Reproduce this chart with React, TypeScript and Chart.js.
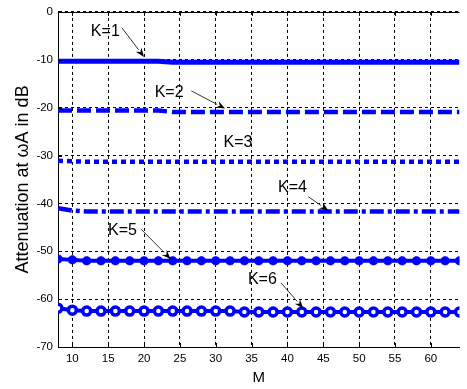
import React, { useEffect, useRef } from "react";
import { Chart, registerables } from "chart.js";

Chart.register(...registerables);

const M = [8, 10, 12, 14, 16, 18, 20, 22, 24, 26, 28, 30, 32, 34, 36, 38, 40, 42, 44, 46, 48, 50, 52, 54, 56, 58, 60, 62, 64];
const K1 = [-10.3, -10.3, -10.3, -10.3, -10.3, -10.3, -10.3, -10.3, -10.5, -10.5, -10.5, -10.5, -10.5, -10.5, -10.5, -10.5, -10.5, -10.5, -10.5, -10.5, -10.5, -10.5, -10.5, -10.5, -10.5, -10.5, -10.5, -10.5, -10.5];
const K2 = [-20.6, -20.6, -20.6, -20.6, -20.6, -20.6, -20.6, -20.6, -20.9, -20.9, -20.9, -20.9, -20.9, -20.9, -20.9, -20.9, -20.9, -20.9, -20.9, -20.9, -20.9, -20.9, -20.9, -20.9, -20.9, -20.9, -20.9, -20.9, -20.9];
const K3 = [-31.1, -31.2, -31.3, -31.3, -31.3, -31.3, -31.3, -31.3, -31.3, -31.3, -31.3, -31.3, -31.3, -31.3, -31.3, -31.3, -31.3, -31.3, -31.3, -31.3, -31.3, -31.3, -31.3, -31.3, -31.3, -31.3, -31.3, -31.3, -31.3];
const K4 = [-41.0, -41.5, -41.7, -41.7, -41.7, -41.7, -41.7, -41.7, -41.7, -41.7, -41.7, -41.7, -41.7, -41.7, -41.7, -41.7, -41.7, -41.7, -41.7, -41.7, -41.7, -41.7, -41.7, -41.7, -41.7, -41.7, -41.7, -41.7, -41.7];
const K5 = [-51.6, -51.8, -52.0, -52.0, -52.0, -52.0, -52.0, -52.0, -52.0, -52.0, -52.0, -52.0, -52.0, -52.0, -52.0, -52.0, -52.0, -52.0, -52.0, -52.0, -52.0, -52.0, -52.0, -52.0, -52.0, -52.0, -52.0, -52.0, -52.0];
const K6 = [-61.9, -62.3, -62.5, -62.5, -62.5, -62.5, -62.5, -62.5, -62.5, -62.5, -62.5, -62.5, -62.5, -62.7, -62.7, -62.7, -62.7, -62.7, -62.7, -62.7, -62.7, -62.7, -62.7, -62.7, -62.7, -62.7, -62.7, -62.7, -62.7];

const X_TICKS = [10, 15, 20, 25, 30, 35, 40, 45, 50, 55, 60];
const Y_TICKS = [0, -10, -20, -30, -40, -50, -60, -70];

// annotations: label text at (tx, ty), arrow from (ax0, ay0) to (ax1, ay1), in data units
const ANNOTATIONS = [
  { text: "K=1", tx: 14.6, ty: -4.1, arrow: [16.9, -3.3, 20.0, -9.4] },
  { text: "K=2", tx: 23.5, ty: -16.9, arrow: [26.6, -16.5, 31.3, -20.2] },
  { text: "K=3", tx: 33.1, ty: -27.3, arrow: null },
  { text: "K=4", tx: 40.7, ty: -36.8, arrow: [42.9, -38.6, 45.7, -41.5] },
  { text: "K=5", tx: 17.0, ty: -45.6, arrow: [19.6, -45.4, 23.7, -51.6] },
  { text: "K=6", tx: 36.5, ty: -56.0, arrow: [39.1, -56.6, 42.2, -61.9] },
];

const FONT = "'Liberation Sans', Arial, sans-serif";
const BLUE = "#0000ff";

const toXY = (ys: number[]) => M.map((m, i) => ({ x: m, y: ys[i] }));

const boxPlugin = {
  id: "boxAndAnnotations",
  afterDatasetsDraw(chart: any) {
    const { ctx, chartArea } = chart;
    const xs = chart.scales.x;
    const ys = chart.scales.y;
    ctx.save();
    ctx.strokeStyle = "#000";
    ctx.lineWidth = 1;
    ctx.setLineDash([]);
    ctx.beginPath();
    ctx.moveTo(chartArea.left, Math.round(chartArea.top) + 0.5);
    ctx.lineTo(chartArea.right, Math.round(chartArea.top) + 0.5);
    ctx.stroke();
    ctx.beginPath();
    for (const v of X_TICKS) {
      const px = Math.round(xs.getPixelForValue(v)) + 0.5;
      ctx.moveTo(px, chartArea.bottom);
      ctx.lineTo(px, chartArea.bottom - 4);
      ctx.moveTo(px, chartArea.top);
      ctx.lineTo(px, chartArea.top + 4);
    }
    for (const v of Y_TICKS) {
      const py = Math.round(ys.getPixelForValue(v)) + 0.5;
      ctx.moveTo(chartArea.left, py);
      ctx.lineTo(chartArea.left + 4, py);
    }
    ctx.stroke();
    ctx.restore();

    ctx.save();
    ctx.font = "16px " + FONT;
    ctx.fillStyle = "#000";
    ctx.textAlign = "center";
    ctx.textBaseline = "middle";
    for (const a of ANNOTATIONS) {
      ctx.fillText(a.text, xs.getPixelForValue(a.tx), ys.getPixelForValue(a.ty));
      if (a.arrow) {
        const x0 = xs.getPixelForValue(a.arrow[0]);
        const y0 = ys.getPixelForValue(a.arrow[1]);
        const x1 = xs.getPixelForValue(a.arrow[2]);
        const y1 = ys.getPixelForValue(a.arrow[3]);
        const ang = Math.atan2(y1 - y0, x1 - x0);
        const hl = 9;
        const hw = 3.5;
        const bx = x1 - hl * Math.cos(ang);
        const by = y1 - hl * Math.sin(ang);
        ctx.strokeStyle = "#333";
        ctx.lineWidth = 1;
        ctx.beginPath();
        ctx.moveTo(x0, y0);
        ctx.lineTo(bx, by);
        ctx.stroke();
        ctx.fillStyle = "#000";
        ctx.beginPath();
        ctx.moveTo(x1, y1);
        ctx.lineTo(bx + hw * Math.sin(ang), by - hw * Math.cos(ang));
        ctx.lineTo(x1 - (hl - 3) * Math.cos(ang), y1 - (hl - 3) * Math.sin(ang));
        ctx.lineTo(bx - hw * Math.sin(ang), by + hw * Math.cos(ang));
        ctx.closePath();
        ctx.fill();
      }
    }
    ctx.restore();
  },
};

export default function App() {
  const ref = useRef<HTMLCanvasElement | null>(null);

  useEffect(() => {
    document.body.style.margin = "0";
    const canvas = ref.current;
    if (!canvas) return;
    const line = (data: number[], dash: number[], width: number, extra: any = {}) => ({
      data: toXY(data),
      borderColor: BLUE,
      backgroundColor: BLUE,
      borderWidth: width,
      borderDash: dash,
      pointRadius: 0,
      tension: 0,
      ...extra,
    });
    const chart = new Chart(canvas, {
      type: "line",
      data: {
        datasets: [
          line(K1, [], 5),
          line(K2, [14, 5], 4.5),
          line(K3, [5, 4], 4.5),
          line(K4, [14, 4, 4, 4], 4.5),
          line(K5, [], 4, {
            pointRadius: 4.5,
            pointStyle: "star",
            pointBorderWidth: 3,
            pointBorderColor: BLUE,
            pointBackgroundColor: BLUE,
          }),
          line(K6, [], 4, {
            pointRadius: 4,
            pointStyle: "circle",
            pointBorderWidth: 3.5,
            pointBorderColor: BLUE,
            pointBackgroundColor: "#ffffff",
          }),
        ],
      },
      plugins: [boxPlugin],
      options: {
        responsive: false,
        animation: false,
        layout: { padding: { left: 0, right: 0, top: 8, bottom: 0 } },
        plugins: { legend: { display: false }, tooltip: { enabled: false } },
        scales: {
          x: {
            type: "linear",
            min: 8,
            max: 64,
            afterBuildTicks: (s: any) => {
              s.ticks = X_TICKS.map((v) => ({ value: v }));
            },
            afterFit: (s: any) => {
              s.height = 42;
            },
            grid: {
              color: "#000",
              lineWidth: 1,
              drawTicks: false,
            },
            border: { display: true, color: "#000", width: 1, dash: [3, 3] },
            ticks: {
              color: "#000",
              font: { family: FONT, size: 11.5 },
              padding: 5,
              maxRotation: 0,
              autoSkip: false,
            },
            title: {
              display: true,
              text: "M",
              color: "#000",
              font: { family: FONT, size: 15 },
              padding: { top: 2, bottom: 2 },
            },
          },
          y: {
            type: "linear",
            min: -70,
            max: 0,
            afterBuildTicks: (s: any) => {
              s.ticks = Y_TICKS.slice().reverse().map((v) => ({ value: v }));
            },
            afterFit: (s: any) => {
              s.width = 58;
            },
            grid: {
              color: "#000",
              lineWidth: 1,
              drawTicks: false,
            },
            border: { display: true, color: "#000", width: 1, dash: [3, 3] },
            ticks: {
              color: "#000",
              font: { family: FONT, size: 11.5 },
              padding: 5,
              autoSkip: false,
            },
            title: {
              display: true,
              text: "Attenuation at ωA in dB",
              color: "#000",
              font: { family: FONT, size: 18 },
              padding: { top: 12, bottom: 0 },
            },
          },
        },
      },
    });
    return () => chart.destroy();
  }, []);

  return (
    <div style={{ width: 467, height: 389 }}>
      <canvas ref={ref} width={467} height={389} style={{ display: "block" }} />
    </div>
  );
}
